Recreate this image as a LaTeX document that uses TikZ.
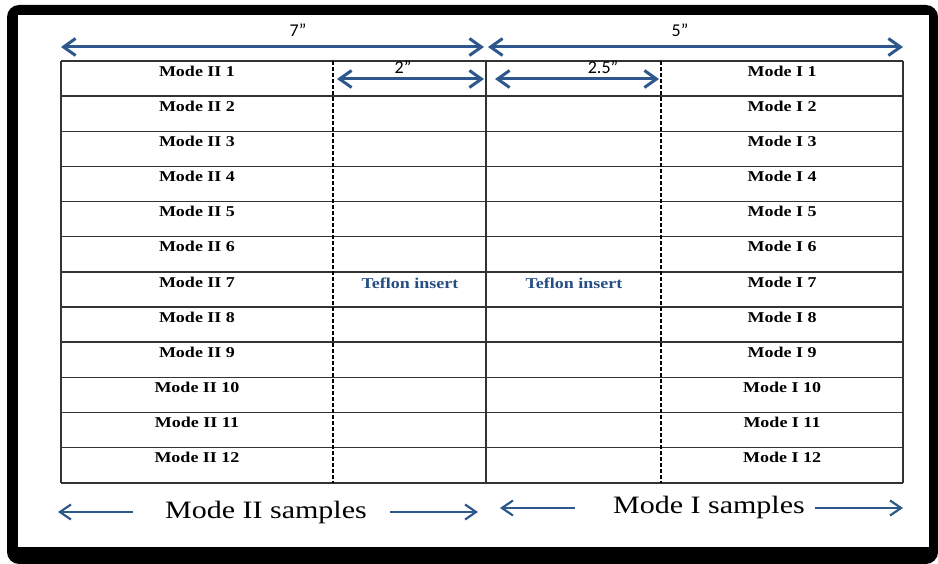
\documentclass[tikz,border=0pt]{standalone}
\usepackage{fontspec}
\setmainfont{Liberation Serif}[FakeStretch=1.2]
\newfontfamily\dimfont{Carlito}
\usetikzlibrary{arrows.meta}

\definecolor{arrowblue}{RGB}{46,88,140}
\definecolor{teflonblue}{RGB}{38,78,132}

\begin{document}
\begin{tikzpicture}[x=1pt,y=-1pt,
  gridline/.style={line width=1.4pt, black!80},
  cutline/.style={line width=1.2pt, black, dash pattern=on 4pt off 2pt},
  dimarrow/.style={{Straight Barb[length=12pt,width=17pt]}-{Straight Barb[length=12pt,width=17pt]}, line width=3pt, arrowblue},
  samplearrow/.style={-{Straight Barb[length=11pt,width=15pt]}, line width=2.2pt, arrowblue},
  dimlabel/.style={font=\dimfont\fontsize{18}{20}\selectfont, inner sep=0pt},
  rowlabel/.style={font=\fontsize{15}{17}\selectfont\bfseries, inner sep=0pt},
  teflon/.style={rowlabel, teflonblue},
  samplelabel/.style={font=\fontsize{25}{28}\selectfont, inner sep=0pt}]

\useasboundingbox (0,0) rectangle (938,564);
\fill[white] (0,0) rectangle (938,564);

% Draw the black frame round the sketch
\fill[black, rounded corners=12pt] (7,5) rectangle (938,564);
\fill[white] (18,15) rectangle (929,547);

% Draw the plate: 12 rows, solid middle line, dashed insert edges
\foreach \i in {0,...,12}
  \draw[gridline] (61,{61+35.15*\i}) -- (903,{61+35.15*\i});
\draw[gridline] (61,61) -- (61,483);
\draw[gridline] (486,61) -- (486,483);
\draw[gridline] (903,61) -- (903,483);
\draw[cutline] (333,61) -- (333,483);
\draw[cutline] (661,61) -- (661,483);

% Sample names in each row
\foreach \i in {1,...,12} {
  \node[rowlabel] (modeII-\i) at (197,{71+35.15*(\i-1)}) {Mode II \i};
  \node[rowlabel] (modeI-\i) at (782,{71+35.15*(\i-1)}) {Mode I \i};
}

% Teflon inserts
\node[teflon] (teflonII) at (410,283) {Teflon insert};
\node[teflon] (teflonI) at (574,283) {Teflon insert};

% Dimensions over the plate
\coordinate (sevenL) at (61,47);
\coordinate (sevenR) at (484,47);
\coordinate (fiveL) at (488,47);
\coordinate (fiveR) at (903,47);
\coordinate (twoL) at (337,79);
\coordinate (twoR) at (484,79);
\coordinate (twohalfL) at (495,79);
\coordinate (twohalfR) at (659,79);
\draw[dimarrow] (sevenL) -- (sevenR);
\draw[dimarrow] (fiveL) -- (fiveR);
\draw[dimarrow] (twoL) -- (twoR);
\draw[dimarrow] (twohalfL) -- (twohalfR);
\node[dimlabel] (seven) at (298,30) {7”};
\node[dimlabel] (five) at (680,30) {5”};
\node[dimlabel] (two) at (403,67) {2”};
\node[dimlabel] (twohalf) at (603,67) {2.5”};

% Sample groups under the plate
\node[samplelabel] (groupII) at (266,512) {Mode II samples};
\node[samplelabel] (groupI) at (709,507) {Mode I samples};
\coordinate (groupIIL) at (58,512);
\coordinate (groupIIR) at (478,512);
\coordinate (groupIL) at (500,508);
\coordinate (groupIR) at (903,508);
\draw[samplearrow] (133,512) -- (groupIIL);
\draw[samplearrow] (390,512) -- (groupIIR);
\draw[samplearrow] (575,508) -- (groupIL);
\draw[samplearrow] (815,508) -- (groupIR);

\end{tikzpicture}
\end{document}
